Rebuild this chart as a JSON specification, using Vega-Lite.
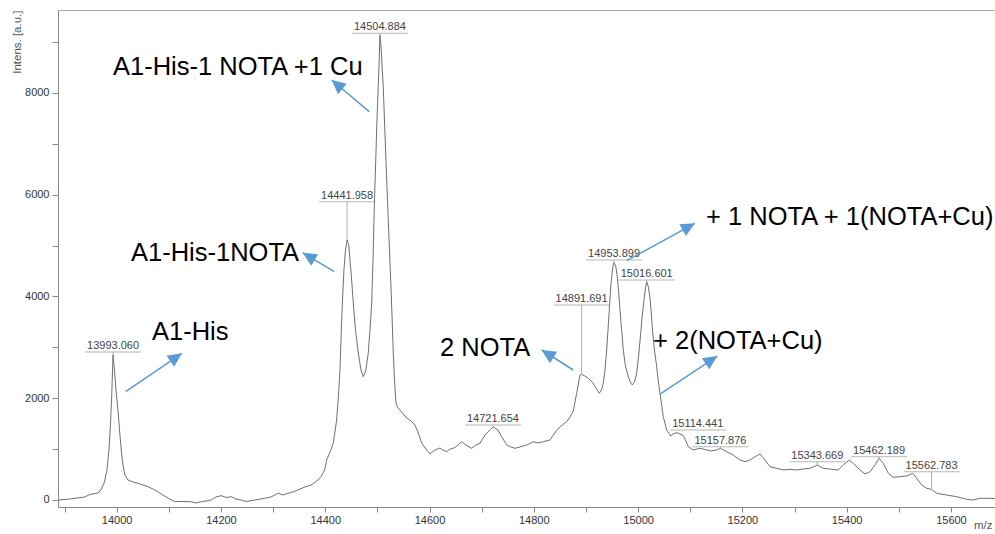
{
"$schema": "https://vega.github.io/schema/vega-lite/v6.json",
"width": 937, "height": 497,
"autosize": {"type": "none"},
"padding": {"left": 58, "top": 10, "right": 0, "bottom": 27},
"background": "white",
"config": {"view": {"stroke": "#aaaaaa", "strokeWidth": 1}, "font": "Liberation Sans"},
"datasets": {
"spectrum": [
{"mz":13888,"I":0},{"mz":13910.4,"I":20},{"mz":13938.6,"I":59},{"mz":13948.8,"I":108},{"mz":13964.1,"I":138},{"mz":13969.9,"I":197},{"mz":13976.6,"I":354},{"mz":13981.4,"I":590},{"mz":13985.2,"I":983},{"mz":13988.1,"I":1474},{"mz":13990.6,"I":2064},{"mz":13992.1,"I":2555},{"mz":13993.1,"I":2850},{"mz":13995.8,"I":2555},{"mz":13998.7,"I":2162},{"mz":14002.5,"I":1769},{"mz":14006.3,"I":1278},{"mz":14009.2,"I":943},{"mz":14012.1,"I":688},{"mz":14015.9,"I":491},{"mz":14021.7,"I":393},{"mz":14031.3,"I":354},{"mz":14040.9,"I":328},{"mz":14050.5,"I":295},{"mz":14060.0,"I":261},{"mz":14069.6,"I":216},{"mz":14079.2,"I":163},{"mz":14088.8,"I":98},{"mz":14098.4,"I":39},{"mz":14111.2,"I":-33},{"mz":14127.2,"I":-29},{"mz":14143.1,"I":-33},{"mz":14152.1,"I":-59},{"mz":14162.3,"I":-33},{"mz":14171.3,"I":-20},{"mz":14181.4,"I":0},{"mz":14190.4,"I":59},{"mz":14200.6,"I":85},{"mz":14209.6,"I":49},{"mz":14219.8,"I":65},{"mz":14228.8,"I":20},{"mz":14239.0,"I":0},{"mz":14248.0,"I":-29},{"mz":14258.2,"I":-14},{"mz":14271.0,"I":10},{"mz":14283.8,"I":33},{"mz":14295.9,"I":59},{"mz":14309.4,"I":132},{"mz":14318.9,"I":98},{"mz":14328.5,"I":132},{"mz":14338.1,"I":157},{"mz":14347.7,"I":197},{"mz":14361.1,"I":256},{"mz":14373.2,"I":295},{"mz":14386.1,"I":393},{"mz":14391.8,"I":458},{"mz":14398.9,"I":590},{"mz":14402.8,"I":786},{"mz":14409.1,"I":943},{"mz":14415.4,"I":1114},{"mz":14421.9,"I":1572},{"mz":14425.4,"I":2064},{"mz":14428.3,"I":2555},{"mz":14431.5,"I":3538},{"mz":14434.0,"I":4127},{"mz":14435.9,"I":4520},{"mz":14438.8,"I":4914},{"mz":14442.0,"I":5110},{"mz":14445.1,"I":5012},{"mz":14447.5,"I":4717},{"mz":14450.7,"I":4324},{"mz":14453.8,"I":3872},{"mz":14458.0,"I":3341},{"mz":14463.4,"I":2889},{"mz":14468.5,"I":2555},{"mz":14473.0,"I":2423},{"mz":14478.1,"I":2555},{"mz":14482.5,"I":2889},{"mz":14485.8,"I":3341},{"mz":14489.1,"I":3872},{"mz":14491.6,"I":4717},{"mz":14493.5,"I":5503},{"mz":14495.4,"I":6191},{"mz":14497.3,"I":6820},{"mz":14499.2,"I":7469},{"mz":14501.7,"I":8123},{"mz":14504.0,"I":8800},{"mz":14504.9,"I":9140},{"mz":14507.5,"I":8844},{"mz":14509.4,"I":8451},{"mz":14511.3,"I":8123},{"mz":14513.6,"I":7469},{"mz":14515.9,"I":6820},{"mz":14518.4,"I":6152},{"mz":14520.9,"I":5503},{"mz":14523.6,"I":4815},{"mz":14526.1,"I":4186},{"mz":14528.4,"I":3538},{"mz":14530.5,"I":2889},{"mz":14532.8,"I":2358},{"mz":14535.7,"I":1906},{"mz":14539.5,"I":1808},{"mz":14543.3,"I":1769},{"mz":14556.2,"I":1612},{"mz":14562.5,"I":1572},{"mz":14572.1,"I":1474},{"mz":14578.4,"I":1317},{"mz":14585.0,"I":1120},{"mz":14594.5,"I":983},{"mz":14600.9,"I":904},{"mz":14610.5,"I":983},{"mz":14620.1,"I":1022},{"mz":14625.8,"I":983},{"mz":14632.9,"I":949},{"mz":14639.3,"I":1002},{"mz":14645.6,"I":1016},{"mz":14652.7,"I":1061},{"mz":14661.7,"I":1146},{"mz":14669.9,"I":1081},{"mz":14680.9,"I":1016},{"mz":14689.1,"I":1081},{"mz":14696.8,"I":1114},{"mz":14706.4,"I":1278},{"mz":14716.0,"I":1376},{"mz":14721.7,"I":1440},{"mz":14731.3,"I":1376},{"mz":14738.4,"I":1244},{"mz":14748.0,"I":1081},{"mz":14756.2,"I":1042},{"mz":14763.9,"I":1016},{"mz":14773.5,"I":1042},{"mz":14786.3,"I":1081},{"mz":14792.7,"I":1110},{"mz":14799.0,"I":1146},{"mz":14808.0,"I":1120},{"mz":14818.2,"I":1146},{"mz":14831.0,"I":1179},{"mz":14843.9,"I":1376},{"mz":14852.1,"I":1454},{"mz":14863.1,"I":1539},{"mz":14869.4,"I":1631},{"mz":14875.7,"I":1749},{"mz":14882.2,"I":2097},{"mz":14888.6,"I":2457},{"mz":14891.7,"I":2470},{"mz":14898.1,"I":2437},{"mz":14904.5,"I":2392},{"mz":14914.1,"I":2294},{"mz":14919.2,"I":2201},{"mz":14925.6,"I":2097},{"mz":14929.8,"I":2162},{"mz":14933.2,"I":2294},{"mz":14936.5,"I":2555},{"mz":14939.8,"I":2948},{"mz":14942.3,"I":3341},{"mz":14944.8,"I":3734},{"mz":14947.1,"I":4127},{"mz":14949.4,"I":4389},{"mz":14951.9,"I":4599},{"mz":14953.9,"I":4664},{"mz":14957.2,"I":4599},{"mz":14960.1,"I":4389},{"mz":14962.8,"I":4088},{"mz":14965.3,"I":3734},{"mz":14968.5,"I":3341},{"mz":14971.6,"I":2948},{"mz":14975.8,"I":2634},{"mz":14981.2,"I":2423},{"mz":14985.0,"I":2319},{"mz":14988.9,"I":2260},{"mz":14993.1,"I":2319},{"mz":14997.3,"I":2490},{"mz":15001.2,"I":2850},{"mz":15005.0,"I":3276},{"mz":15008.1,"I":3636},{"mz":15011.3,"I":3931},{"mz":15014.4,"I":4186},{"mz":15016.6,"I":4290},{"mz":15019.8,"I":4186},{"mz":15023.2,"I":3931},{"mz":15025.6,"I":3636},{"mz":15028.1,"I":3276},{"mz":15031.4,"I":2948},{"mz":15035.7,"I":2620},{"mz":15038.7,"I":2339},{"mz":15042.0,"I":2097},{"mz":15045.2,"I":1867},{"mz":15048.3,"I":1637},{"mz":15051.6,"I":1513},{"mz":15054.8,"I":1376},{"mz":15062.5,"I":1258},{"mz":15066.9,"I":1297},{"mz":15074.0,"I":1323},{"mz":15080.3,"I":1297},{"mz":15086.7,"I":1268},{"mz":15091.8,"I":1160},{"mz":15096.3,"I":1048},{"mz":15105.9,"I":983},{"mz":15113.0,"I":1002},{"mz":15118.7,"I":1016},{"mz":15124.5,"I":1002},{"mz":15131.6,"I":983},{"mz":15139.8,"I":963},{"mz":15150.7,"I":983},{"mz":15158.0,"I":1016},{"mz":15169.9,"I":949},{"mz":15182.6,"I":884},{"mz":15195.4,"I":786},{"mz":15205.0,"I":753},{"mz":15214.6,"I":786},{"mz":15224.2,"I":851},{"mz":15233.8,"I":904},{"mz":15243.4,"I":786},{"mz":15253.0,"I":654},{"mz":15265.8,"I":623},{"mz":15278.5,"I":590},{"mz":15291.3,"I":603},{"mz":15304.2,"I":590},{"mz":15316.8,"I":609},{"mz":15329.7,"I":623},{"mz":15343.7,"I":688},{"mz":15355.2,"I":623},{"mz":15371.3,"I":603},{"mz":15383.9,"I":590},{"mz":15393.5,"I":688},{"mz":15405.0,"I":786},{"mz":15412.7,"I":721},{"mz":15425.6,"I":590},{"mz":15435.2,"I":511},{"mz":15444.8,"I":556},{"mz":15454.4,"I":688},{"mz":15462.2,"I":820},{"mz":15470.3,"I":721},{"mz":15479.9,"I":525},{"mz":15489.5,"I":446},{"mz":15502.3,"I":458},{"mz":15515.2,"I":472},{"mz":15526.7,"I":525},{"mz":15534.3,"I":426},{"mz":15543.9,"I":295},{"mz":15553.5,"I":230},{"mz":15562.8,"I":210},{"mz":15572.7,"I":132},{"mz":15591.9,"I":98},{"mz":15611.0,"I":65},{"mz":15630.2,"I":14},{"mz":15642.9,"I":0},{"mz":15655.7,"I":33},{"mz":15674.9,"I":33},{"mz":15684.5,"I":29}
],
"peaks": [
{"mz":13993.060,"pk":2850,"I":2909,"t":"13993.060"},
{"mz":14441.958,"pk":5110,"I":5863,"t":"14441.958"},
{"mz":14504.884,"pk":9140,"I":9172,"t":"14504.884"},
{"mz":14721.654,"pk":1440,"I":1474,"t":"14721.654"},
{"mz":14891.691,"pk":2470,"I":3833,"t":"14891.691"},
{"mz":14953.899,"pk":4664,"I":4717,"t":"14953.899"},
{"mz":15016.601,"pk":4290,"I":4324,"t":"15016.601"},
{"mz":15114.441,"pk":1376,"I":1376,"t":"15114.441"},
{"mz":15157.876,"pk":1016,"I":1048,"t":"15157.876"},
{"mz":15343.669,"pk":688,"I":753,"t":"15343.669"},
{"mz":15462.189,"pk":820,"I":851,"t":"15462.189"},
{"mz":15562.783,"pk":210,"I":556,"t":"15562.783"}
],
"arrows": [
{"mz":14017.3,"I":2128,"mz2":14125.2,"I2":2883},
{"mz":14484.5,"I":7632,"mz2":14412.3,"I2":8255},
{"mz":14417.3,"I":4487,"mz2":14356.7,"I2":4860},
{"mz":14875.7,"I":2555,"mz2":14815.1,"I2":2948},
{"mz":14978.1,"I":4703,"mz2":15109.1,"I2":5438},
{"mz":15042.0,"I":2083,"mz2":15151.9,"I2":2830}
],
"notes": [
{"mz":13992.9,"I":8353,"t":"A1-His-1 NOTA +1 Cu"},
{"mz":14027.4,"I":4697,"t":"A1-His-1NOTA"},
{"mz":14067.7,"I":3145,"t":"A1-His"},
{"mz":14620.1,"I":2830,"t":"2 NOTA"},
{"mz":15130.2,"I":5405,"t":"+ 1 NOTA + 1(NOTA+Cu)"},
{"mz":15028.6,"I":2968,"t":"+ 2(NOTA+Cu)"}
]
},
"encoding": {
"x": {"field": "mz", "type": "quantitative",
 "scale": {"domain": [13887.5, 15684.5], "nice": false, "zero": false},
 "axis": {"title": "m/z", "grid": false,
  "values": [13900,14000,14100,14200,14300,14400,14500,14600,14700,14800,14900,15000,15100,15200,15300,15400,15500,15600],
  "labelExpr": "datum.value % 200 === 0 ? format(datum.value, 'd') : ''",
  "tickSize": 5, "labelPadding": 2, "labelFontSize": 11, "labelFont": "Liberation Sans", "labelColor": "#333333",
  "labelFlush": false, "labelOverlap": false,
  "domainColor": "#888888", "tickColor": "#888888",
  "titleX": 934, "titleY": 21, "titleAlign": "right", "titleBaseline": "alphabetic", "titleAnchor": "end",
  "titleFontWeight": "normal", "titleFontSize": 11.5, "titleColor": "#555555", "titleFont": "Liberation Sans"}},
"y": {"field": "I", "type": "quantitative",
 "scale": {"domain": [-137.6, 9630.5], "nice": false, "zero": false},
 "axis": {"title": "Intens. [a.u.]", "grid": false,
  "values": [0,1000,2000,3000,4000,5000,6000,7000,8000,9000],
  "labelExpr": "datum.value % 2000 === 0 ? format(datum.value, 'd') : ''",
  "tickSize": 6, "labelPadding": 3, "labelFontSize": 11, "labelFont": "Liberation Sans", "labelColor": "#333333",
  "labelOverlap": false, "labelFlush": false,
  "domainColor": "#888888", "tickColor": "#888888",
  "titleX": -38, "titleY": 0, "titleAngle": 270, "titleAlign": "right", "titleBaseline": "alphabetic",
  "titleFontWeight": "normal", "titleFontSize": 11.5, "titleColor": "#555555", "titleFont": "Liberation Sans"}}
},
"layer": [
{"data": {"name": "spectrum"}, "mark": {"type": "line", "color": "#707070", "strokeWidth": 1, "clip": true}},
{"data": {"name": "peaks"}, "mark": {"type": "rule", "color": "#b0b0b0", "strokeWidth": 1},
 "encoding": {"y2": {"field": "pk"}}},
{"data": {"name": "peaks"}, "mark": {"type": "tick", "orient": "horizontal", "size": 56, "thickness": 1, "color": "#999999"}},
{"data": {"name": "peaks"}, "mark": {"type": "text", "baseline": "bottom", "align": "center", "dy": -1, "fontSize": 11, "font": "Liberation Sans", "color": "#444444"},
 "encoding": {"text": {"field": "t"}}},
{"data": {"name": "arrows"}, "mark": {"type": "rule", "color": "#5B9BD5", "strokeWidth": 1.5},
 "encoding": {"x2": {"field": "mz2"}, "y2": {"field": "I2"}}},
{"data": {"name": "arrows"},
 "transform": [{"calculate": "atan2((datum.mz2 - datum.mz) * 0.5214, (datum.I2 - datum.I) * 0.05088) * 180 / PI", "as": "ang"}],
 "mark": {"type": "point", "shape": "M0,0L-0.48,1L0.48,1Z", "filled": true, "color": "#5B9BD5", "opacity": 1, "size": 784, "strokeWidth": 0},
 "encoding": {"x": {"field": "mz2", "type": "quantitative"}, "y": {"field": "I2", "type": "quantitative"},
  "angle": {"field": "ang", "type": "quantitative", "scale": null}}},
{"data": {"name": "notes"}, "mark": {"type": "text", "align": "left", "baseline": "alphabetic", "fontSize": 25.5, "font": "Liberation Sans", "color": "#000000"},
 "encoding": {"text": {"field": "t"}}}
]
}
